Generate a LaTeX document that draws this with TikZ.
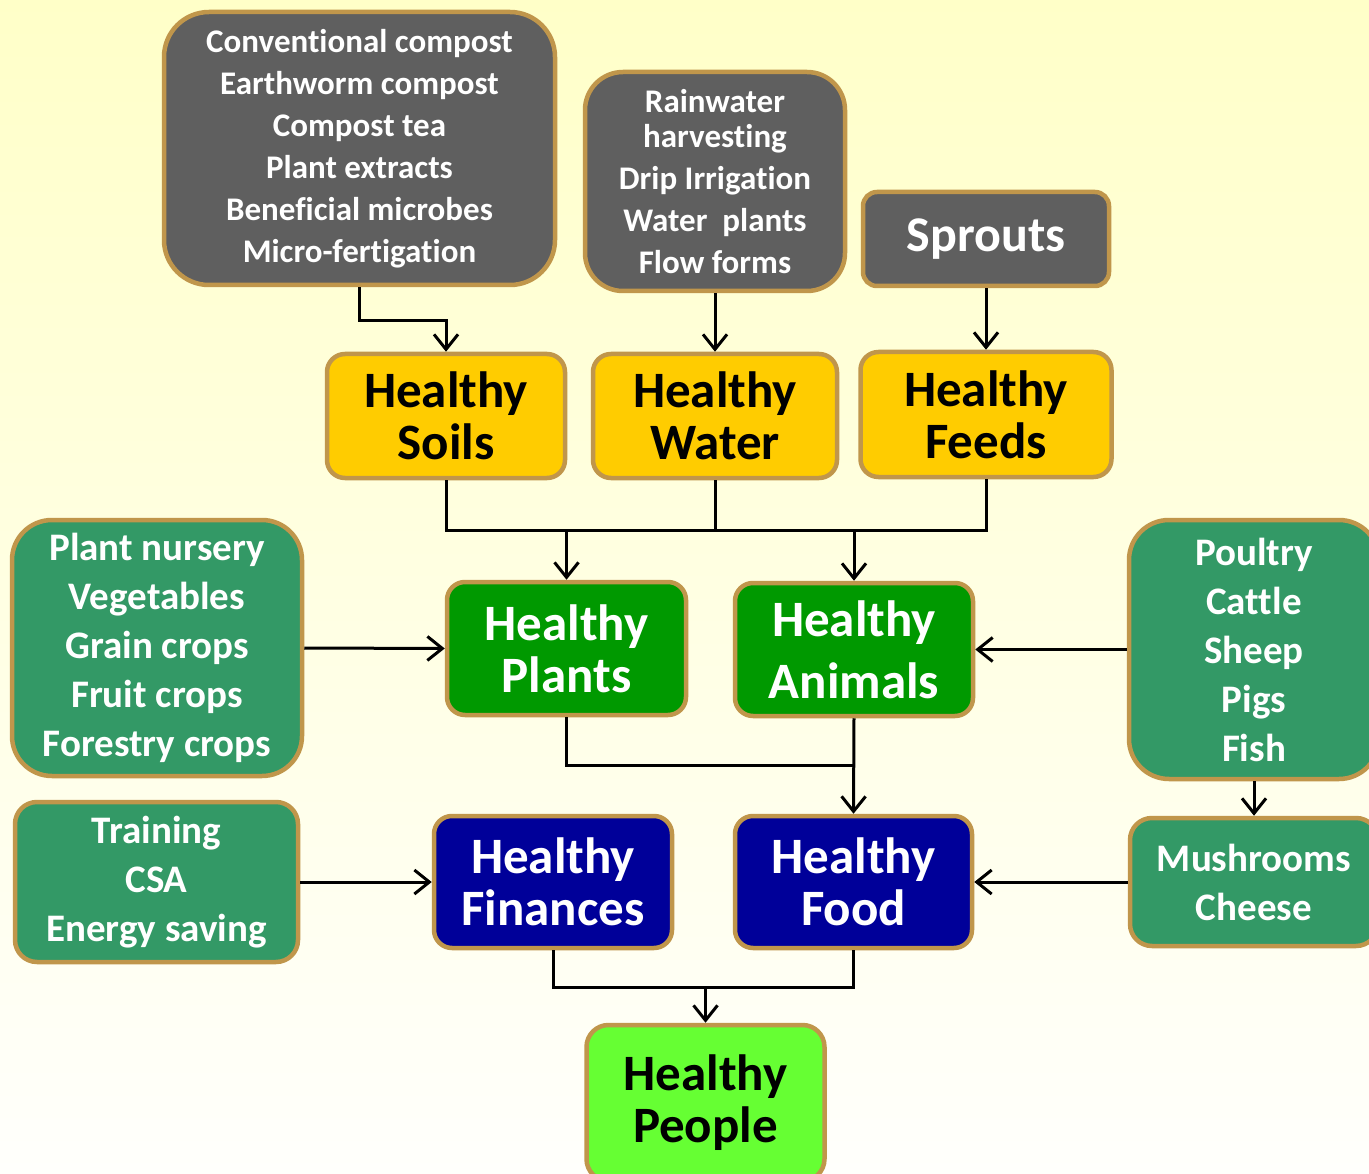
\documentclass[tikz,border=0pt]{standalone}
\usepackage{fontspec}
\setmainfont{Carlito}[Ligatures=CommonOff]
\usetikzlibrary{arrows.meta}
\definecolor{bgtop}{RGB}{255,255,200}
\definecolor{bgbot}{RGB}{255,255,252}
\definecolor{bordc}{RGB}{192,150,75}
\definecolor{grayf}{RGB}{95,95,95}
\definecolor{yellf}{RGB}{255,204,0}
\definecolor{greenf}{RGB}{0,153,0}
\definecolor{tealf}{RGB}{51,153,102}
\definecolor{bluef}{RGB}{0,0,153}
\definecolor{lgreenf}{RGB}{102,255,51}
\tikzset{
  box/.style={draw=bordc, line width=4.5pt, rectangle, align=center, inner sep=0pt, font=\bfseries},
  big/.style={font=\bfseries\fontsize{51}{52}\selectfont},
  small/.style={font=\bfseries\fontsize{33}{42}\selectfont},
  mid/.style={font=\bfseries\fontsize{39}{49}\selectfont},
  conn/.style={draw=black, line width=3pt},
  arr/.style={conn, -{Straight Barb[length=15pt,width=24pt,line width=3pt]}},
}
\begin{document}
\begin{tikzpicture}[x=1pt,y=-1pt]
\useasboundingbox (0,0) rectangle (1369,1174);
\clip (0,0) rectangle (1369,1174);
\shade[top color=bgtop, bottom color=bgbot] (0,0) rectangle (1369,1174);

% top gray boxes
\node[box, small, fill=grayf, text=white, rounded corners=45pt, minimum width=391pt, minimum height=273pt] (compost) at (359.5,148.5)
  {Conventional compost\\Earthworm compost\\Compost tea\\Plant extracts\\Beneficial microbes\\Micro-fertigation};
\node[box, small, fill=grayf, text=white, rounded corners=38pt, minimum width=260pt, minimum height=219pt] (waterlist) at (715,181.5)
  {Rainwater\\[-7pt]harvesting\\Drip Irrigation\\Water\ \ plants\\Flow forms};
\node[box, font=\bfseries\fontsize{50}{52}\selectfont, fill=grayf, text=white, rounded corners=14pt, minimum width=246pt, minimum height=94pt] (sprouts) at (986,239)
  {Sprouts};

% yellow boxes
\node[box, big, fill=yellf, text=black, rounded corners=18pt, minimum width=238pt, minimum height=124pt] (soils) at (446,416) {Healthy\\Soils};
\node[box, big, fill=yellf, text=black, rounded corners=18pt, minimum width=244pt, minimum height=124pt] (water) at (715,416) {Healthy\\Water};
\node[box, big, fill=yellf, text=black, rounded corners=18pt, minimum width=251pt, minimum height=125pt] (feeds) at (986,414.5) {Healthy\\Feeds};

% middle row
\node[box, mid, fill=tealf, text=white, rounded corners=40pt, minimum width=290pt, minimum height=256pt] (plantlist) at (157,648)
  {Plant nursery\\Vegetables\\Grain crops\\Fruit crops\\Forestry crops};
\node[box, big, fill=greenf, text=white, rounded corners=18pt, minimum width=239pt, minimum height=133pt] (plants) at (566.5,648.5) {Healthy\\Plants};
\node[box, font=\bfseries\fontsize{51}{62}\selectfont, fill=greenf, text=white, rounded corners=18pt, minimum width=238pt, minimum height=133pt] (animals) at (854,649.5) {Healthy\\Animals};
\node[box, mid, fill=tealf, text=white, rounded corners=40pt, minimum width=250pt, minimum height=259pt] (poultry) at (1254,649.5)
  {Poultry\\Cattle\\Sheep\\Pigs\\Fish};

% lower row
\node[box, mid, fill=tealf, text=white, rounded corners=22pt, minimum width=283pt, minimum height=160pt] (training) at (156.5,882)
  {Training\\CSA\\Energy saving};
\node[box, big, fill=bluef, text=white, rounded corners=18pt, minimum width=238pt, minimum height=132pt] (finances) at (553,882) {Healthy\\Finances};
\node[box, big, fill=bluef, text=white, rounded corners=18pt, minimum width=237pt, minimum height=132pt] (food) at (853.5,882) {Healthy\\Food};
\node[box, mid, fill=tealf, text=white, rounded corners=22pt, minimum width=248pt, minimum height=128pt] (mushrooms) at (1254,882)
  {Mushrooms\\Cheese};

% bottom
\node[box, big, fill=lgreenf, text=black, rounded corners=22pt, minimum width=238pt, minimum height=156pt] (people) at (705.5,1103) {Healthy\\People};

% connectors
\draw[arr] (compost.south) -- ++(0,33) -| (soils.north);
\draw[arr] (waterlist.south) -- (water.north);
\draw[arr] (sprouts.south) -- (feeds.north);

\coordinate (j1) at (0,530);
\draw[conn] (soils.south) |- (j1 -| feeds.south) -- (feeds.south);
\draw[conn] (water.south) -- (water.south |- j1);
\draw[arr] (plants.north |- j1) -- (plants.north);
\draw[arr] (animals.north |- j1) -- (animals.north);

\draw[arr] (plantlist.east) -- (plants.west);
\draw[arr] (poultry.west) -- (animals.east);

\coordinate (j2) at (0,765);
\draw[conn] (plants.south) |- (j2 -| animals.south);
\draw[arr] (animals.south) -- (food.north);

\draw[arr] (poultry.south) -- (mushrooms.north);
\draw[arr] (training.east) -- (finances.west);
\draw[arr] (mushrooms.west) -- (food.east);

\coordinate (j3) at (0,987);
\draw[conn] (finances.south) |- (j3 -| food.south) -- (food.south);
\draw[arr] (j3 -| people.north) -- (people.north);
\end{tikzpicture}
\end{document}
